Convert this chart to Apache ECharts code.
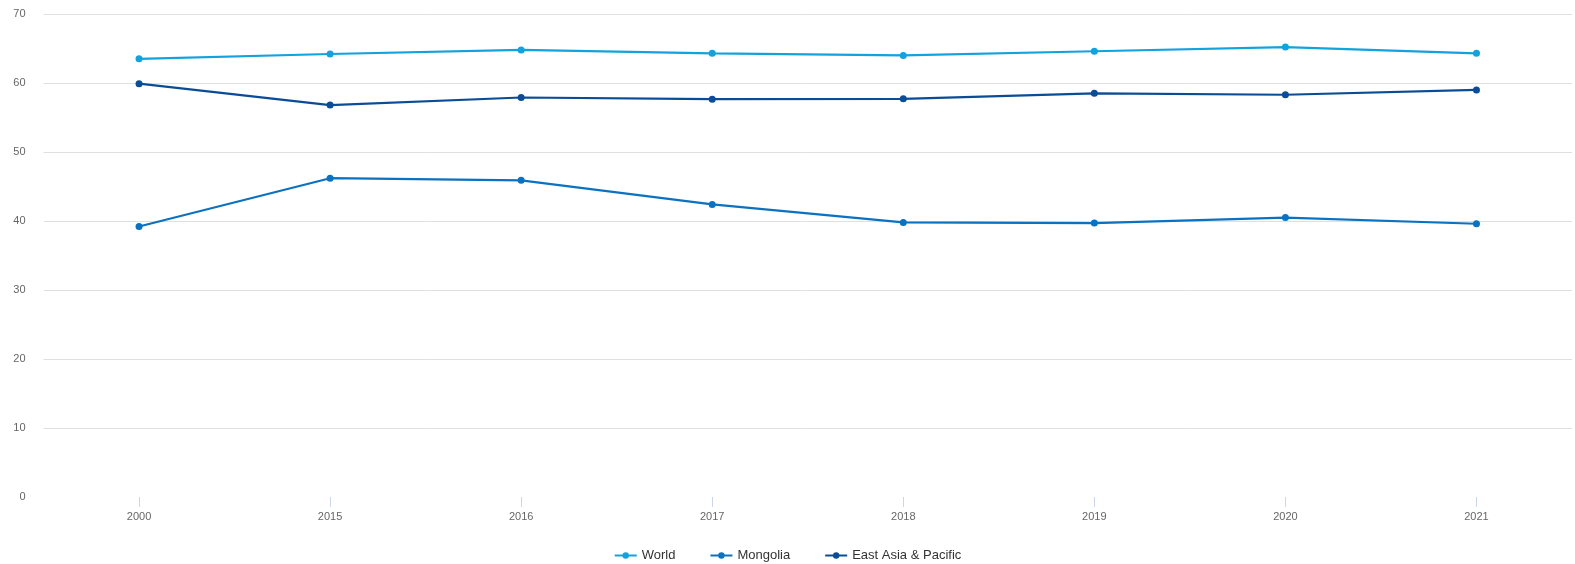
<!DOCTYPE html>
<html><head><meta charset="utf-8">
<script src="https://cdn.jsdelivr.net/npm/echarts@6/dist/echarts.min.js"></script>
<style>html,body{margin:0;padding:0;background:#fff}#c{width:1575px;height:564px}</style>
</head><body><div id="c"></div>
<script>
const categories = ['2000','2015','2016','2017','2018','2019','2020','2021'];
const world = [63.5, 64.2, 64.8, 64.3, 64.0, 64.6, 65.2, 64.3];
const mongolia = [39.2, 46.2, 45.9, 42.4, 39.8, 39.7, 40.5, 39.6];
const eap = [59.9, 56.8, 57.9, 57.65, 57.7, 58.5, 58.3, 59.0];
const yTicks = [0, 10, 20, 30, 40, 50, 60, 70];

const colors = ['#12a2dd', '#0b72c1', '#0a4c95'];
const chart = echarts.init(document.getElementById('c'));
function s(name, data, color) {
  return { name, type: 'line', data, color, symbol: 'circle', symbolSize: 7,
    lineStyle: { width: 2.2, color }, itemStyle: { color } };
}
chart.setOption({
  animation: false,
  textStyle: { fontFamily: '"Liberation Sans", Arial, sans-serif' },
  grid: { left: 43.5, right: 3, top: 14, bottom: 67, containLabel: false },
  legend: { top: 544, left: 'center', itemWidth: 22, itemHeight: 8, itemGap: 34,
    textStyle: { color: '#333', fontSize: 13, fontFamily: '"Liberation Sans", Arial, sans-serif' },
    data: ['World', 'Mongolia', 'East Asia & Pacific'] },
  xAxis: { type: 'category', data: categories, boundaryGap: true,
    axisLine: { show: true, lineStyle: { color: '#ffffff', width: 2 } },
    axisTick: { show: true, alignWithLabel: true, length: 10, lineStyle: { color: '#ccd6eb' } },
    axisLabel: { color: '#666', fontSize: 11, margin: 14 } },
  yAxis: { type: 'value', min: yTicks[0], max: yTicks[yTicks.length - 1], interval: 10,
    axisLabel: { color: '#666', fontSize: 11, margin: 18 },
    splitLine: { lineStyle: { color: '#e0e0e0' } } },
  series: [
    s('World', world, colors[0]),
    s('Mongolia', mongolia, colors[1]),
    s('East Asia & Pacific', eap, colors[2])
  ]
});
</script></body></html>
